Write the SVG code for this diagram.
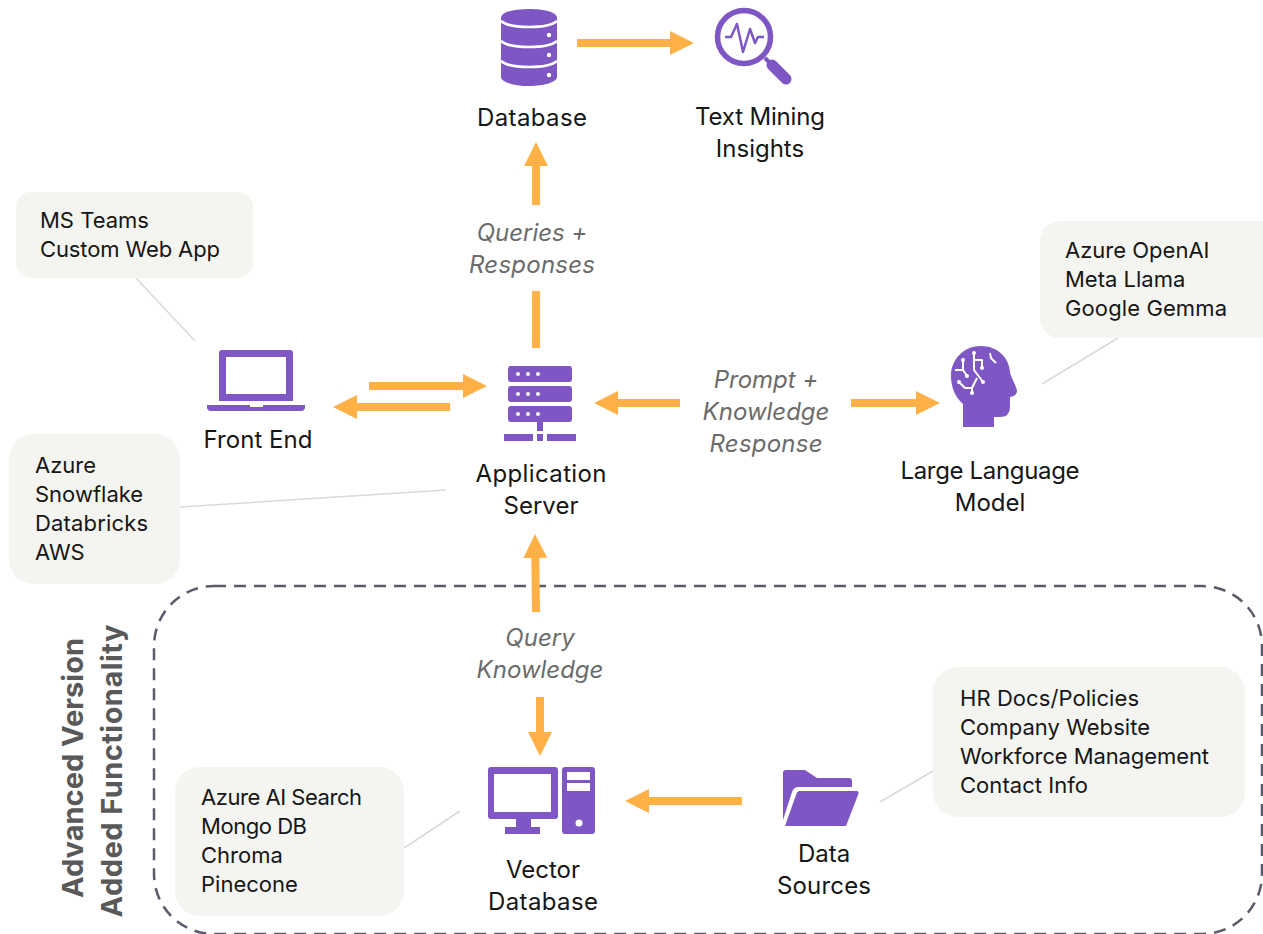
<svg xmlns="http://www.w3.org/2000/svg" width="1263" height="934" viewBox="0 0 1263 934">
<defs>
<style>
text{font-family:"Inter","Noto Sans",sans-serif;fill:#161616}
.lab{font-size:24px;text-anchor:middle}
.edge{font-size:24px;text-anchor:middle;font-style:italic;fill:#6b6b6b}
.call{font-size:22px}
.box{fill:#f4f4f0}
.lead{stroke:#d9d9d9;stroke-width:1.5;fill:none}
.ic{fill:#7e57c5}
.w{fill:#fff}
.arrow{stroke:#ffb147;stroke-width:8;fill:none;marker-end:url(#ah)}
.adv{font-size:29px;font-weight:700;fill:#595959;text-anchor:middle}
.tr{fill:none;stroke:#fff;stroke-width:2;stroke-linejoin:round}
</style>
<marker id="ah" markerUnits="userSpaceOnUse" markerWidth="24" markerHeight="24" refX="0" refY="12" orient="auto"><path d="M0 0L24 12L0 24Z" fill="#ffb147"/></marker>
</defs>
<rect id="advanced-region" x="154" y="586" width="1108" height="348" rx="60" fill="none" stroke="#5a5a6b" stroke-width="2.5" stroke-dasharray="12 8"/>
<g id="advanced-label">
<text class="adv" transform="translate(83 768) rotate(-90)" textLength="260">Advanced Version</text>
<text class="adv" transform="translate(122 771) rotate(-90)" textLength="293">Added Functionality</text>
</g>
<g id="connectors">
<line class="lead" x1="135" y1="277" x2="195" y2="341"/>
<line class="lead" x1="180" y1="507" x2="446" y2="490"/>
<line class="lead" x1="1118" y1="338" x2="1042" y2="384"/>
<line class="lead" x1="404" y1="848" x2="460" y2="811"/>
<line class="lead" x1="880" y1="802" x2="933" y2="771"/>
<line class="arrow" x1="577" y1="43" x2="670" y2="43"/>
<line class="arrow" x1="536" y1="205" x2="536" y2="166"/>
<line class="arrow" x1="536" y1="348" x2="536" y2="291" style="marker-end:none"/>
<line class="arrow" x1="369" y1="386" x2="463" y2="386"/>
<line class="arrow" x1="450" y1="407" x2="357" y2="407"/>
<line class="arrow" x1="680" y1="403" x2="618" y2="403"/>
<line class="arrow" x1="851" y1="403" x2="916" y2="403"/>
<line class="arrow" x1="536" y1="612" x2="535.3" y2="558"/>
<line class="arrow" x1="540" y1="697" x2="540" y2="732"/>
<line class="arrow" x1="742" y1="801" x2="649" y2="801"/>
</g>
<g id="edge-labels">
<text class="edge" x="532" y="241">Queries +</text>
<text class="edge" x="532" y="273" textLength="126">Responses</text>
<text class="edge" x="766" y="388">Prompt +</text>
<text class="edge" x="766" y="420">Knowledge</text>
<text class="edge" x="766" y="452" textLength="113">Response</text>
<text class="edge" x="540" y="646">Query</text>
<text class="edge" x="540" y="678">Knowledge</text>
</g>
<g id="callout-frontend"><rect class="box" x="16" y="192" width="237" height="86" rx="15"/>
<text class="call" x="40" y="228">MS Teams</text><text class="call" x="40" y="257" textLength="180">Custom Web App</text></g>
<g id="callout-llm"><rect class="box" x="1040" y="221" width="240" height="117" rx="20"/>
<text class="call" x="1065" y="258">Azure OpenAI</text><text class="call" x="1065" y="287">Meta Llama</text><text class="call" x="1065" y="316" textLength="162">Google Gemma</text></g>
<g id="callout-server"><rect class="box" x="9" y="434" width="171" height="150" rx="25"/>
<text class="call" x="35" y="473">Azure</text><text class="call" x="35" y="502">Snowflake</text><text class="call" x="35" y="531" textLength="113">Databricks</text><text class="call" x="35" y="560">AWS</text></g>
<g id="callout-vector"><rect class="box" x="175" y="767" width="229" height="149" rx="25"/>
<text class="call" x="201" y="805" textLength="161">Azure AI Search</text><text class="call" x="201" y="834" textLength="106">Mongo DB</text><text class="call" x="201" y="863">Chroma</text><text class="call" x="201" y="892">Pinecone</text></g>
<g id="callout-data"><rect class="box" x="933" y="667" width="312" height="150" rx="25"/>
<text class="call" x="960" y="706" textLength="179">HR Docs/Policies</text><text class="call" x="960" y="735" textLength="190">Company Website</text><text class="call" x="960" y="764" textLength="249">Workforce Management</text><text class="call" x="960" y="793" textLength="128">Contact Info</text></g>
<g id="database">
<path class="ic" d="M501 18C501 12 514 9 529 9S557 12 557 18V77C557 82 544 86 529 86S501 82 501 77Z"/>
<g fill="none" stroke="#fff" stroke-width="2.5"><path d="M501 21C510 29 548 29 557 21"/><path d="M501 41C510 49 548 49 557 41"/><path d="M501 61C510 69 548 69 557 61"/></g>
<circle class="w" cx="549" cy="35" r="2.2"/><circle class="w" cx="549" cy="55" r="2.2"/><circle class="w" cx="549" cy="75" r="2.2"/>
<text class="lab" x="532" y="126" textLength="110">Database</text></g>
<g id="text-mining">
<circle cx="744" cy="37" r="26.5" fill="none" stroke="#7e57c5" stroke-width="5.5"/>
<path d="M725 37H731L737 24L743 52L750 29L755 43L758 37H764" fill="none" stroke="#7e57c5" stroke-width="2.5" stroke-linejoin="round"/>
<path d="M765 58L771 64" stroke="#7e57c5" stroke-width="4" fill="none"/>
<path d="M772 65L786 79" stroke="#7e57c5" stroke-width="11" stroke-linecap="round" fill="none"/>
<text class="lab" x="760" y="125" textLength="130">Text Mining</text><text class="lab" x="760" y="157">Insights</text></g>
<g id="front-end">
<path class="ic" fill-rule="evenodd" d="M222 350H290Q293 350 293 353V401H219V353Q219 350 222 350ZM226 357V394H286V357Z"/>
<path class="ic" d="M207 405H250V407H263V405H305V407Q305 411 301 411H211Q207 411 207 407Z"/>
<text class="lab" x="258" y="448" textLength="109">Front End</text></g>
<g id="application-server">
<rect class="ic" x="508" y="366" width="64" height="16" rx="3"/><rect class="ic" x="508" y="386" width="64" height="16" rx="3"/><rect class="ic" x="508" y="406" width="64" height="16" rx="3"/>
<g class="w"><circle cx="518" cy="374" r="2"/><circle cx="528" cy="374" r="2"/><circle cx="538" cy="374" r="2"/><circle cx="518" cy="394" r="2"/><circle cx="528" cy="394" r="2"/><circle cx="538" cy="394" r="2"/><circle cx="518" cy="414" r="2"/><circle cx="528" cy="414" r="2"/><circle cx="538" cy="414" r="2"/></g>
<rect class="ic" x="537" y="422" width="6" height="9"/><rect class="ic" x="504" y="434" width="29" height="7"/><rect class="ic" x="537" y="434" width="6" height="7"/><rect class="ic" x="547" y="434" width="29" height="7"/>
<text class="lab" x="541" y="482" textLength="131">Application</text><text class="lab" x="541" y="514">Server</text></g>
<g id="llm">
<path class="ic" d="M963 427V404C955 397 951 387 951 376C951 359 964 346 981 346C997 346 1009 357 1010 372C1011 378 1017 387 1017 391Q1017 396 1010 397V407Q1010 417 1000 417H994V427Z"/>
<path class="tr" d="M974 353V370L983 382M974 360H982V368M959 382L965 388H972V393M972 388L977 378M963 360V370H955M963 370L967 376M990 353L991 358L996 363"/>
<g class="w"><circle cx="974" cy="353" r="2"/><circle cx="982" cy="368" r="2"/><circle cx="983" cy="382" r="2"/><circle cx="959" cy="382" r="2"/><circle cx="972" cy="393" r="2"/><circle cx="963" cy="360" r="2"/><circle cx="967" cy="376" r="2"/></g>
<text class="lab" x="990" y="479" textLength="179">Large Language</text><text class="lab" x="990" y="511">Model</text></g>
<g id="vector-database">
<path class="ic" fill-rule="evenodd" d="M491 767H555Q558 767 558 770V816Q558 819 555 819H491Q488 819 488 816V770Q488 767 491 767ZM494 774V812H551V774Z"/>
<rect class="ic" x="516" y="819" width="15" height="8"/><rect class="ic" x="505" y="827" width="35" height="7"/>
<path class="ic" fill-rule="evenodd" d="M565 767H592Q595 767 595 770V831Q595 834 592 834H565Q562 834 562 831V770Q562 767 565 767ZM567 772V780H590V772ZM567 783V791H590V783Z"/>
<circle class="w" cx="579" cy="823" r="3.5"/>
<text class="lab" x="543" y="878">Vector</text><text class="lab" x="543" y="910" textLength="110">Database</text></g>
<g id="data-sources">
<path class="ic" d="M783 773Q783 770 786 770H805L817 778H849Q852 778 852 781V787H798Q794 787 792 792L783 820Z"/>
<path class="ic" d="M800 791H856Q860 791 858 795L846 826H785L796 795Q797 791 800 791Z"/>
<text class="lab" x="824" y="862">Data</text><text class="lab" x="824" y="894" textLength="94">Sources</text></g>
</svg>
